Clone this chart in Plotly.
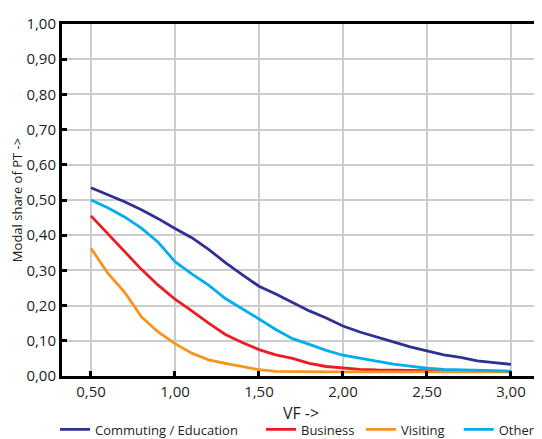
import plotly.graph_objects as go

vf = [0.5, 0.6, 0.7, 0.8, 0.9, 1.0, 1.1, 1.2, 1.3, 1.4, 1.5, 1.6, 1.7, 1.8, 1.9,
      2.0, 2.1, 2.2, 2.3, 2.4, 2.5, 2.6, 2.7, 2.8, 2.9, 3.0]

commuting = [0.535, 0.515, 0.495, 0.472, 0.447, 0.419, 0.393, 0.360, 0.322, 0.288,
             0.255, 0.233, 0.208, 0.185, 0.165, 0.142, 0.125, 0.110, 0.097, 0.083,
             0.071, 0.060, 0.053, 0.043, 0.038, 0.033]
business = [0.455, 0.405, 0.355, 0.303, 0.258, 0.218, 0.185, 0.150, 0.118, 0.095,
            0.075, 0.060, 0.050, 0.036, 0.027, 0.022, 0.019, 0.017, 0.016, 0.015,
            0.014, 0.014, 0.013, 0.013, 0.013, 0.013]
visiting = [0.363, 0.292, 0.238, 0.168, 0.125, 0.092, 0.065, 0.046, 0.036, 0.026,
            0.018, 0.013, 0.012, 0.012, 0.012, 0.012, 0.012, 0.012, 0.012, 0.012,
            0.012, 0.012, 0.012, 0.012, 0.012, 0.012]
other = [0.500, 0.478, 0.452, 0.420, 0.380, 0.325, 0.290, 0.258, 0.220, 0.192,
         0.162, 0.132, 0.106, 0.090, 0.073, 0.059, 0.050, 0.042, 0.034, 0.028,
         0.022, 0.019, 0.017, 0.016, 0.015, 0.014]

series_names = ["Commuting / Education", "Business", "Visiting", "Other"]
colors = ["#2e3192", "#ed1c24", "#f7941d", "#00aeef"]

x_ticks = [0.5, 1.0, 1.5, 2.0, 2.5, 3.0]
x_tick_labels = ["0,50", "1,00", "1,50", "2,00", "2,50", "3,00"]
y_ticks = [0.0, 0.1, 0.2, 0.3, 0.4, 0.5, 0.6, 0.7, 0.8, 0.9, 1.0]
y_tick_labels = ["0,00", "0,10", "0,20", "0,30", "0,40", "0,50", "0,60", "0,70", "0,80", "0,90", "1,00"]

FONT = "Open Sans"

fig = go.Figure()
legend_ids = ["legend2", "legend3", "legend4", "legend5"]
for name, ys, col, lg in zip(series_names, [commuting, business, visiting, other], colors, legend_ids):
    fig.add_trace(go.Scatter(x=vf, y=ys, mode="lines", name=name, legend=lg,
                             line=dict(color=col, width=2.8)))

legend_x = [-0.0146, 0.4163, 0.6255, 0.8300]
legend_common = dict(orientation="h", yanchor="middle", y=-0.152, xanchor="left",
                     font=dict(family=FONT, size=13, color="#231f20"),
                     bgcolor="rgba(0,0,0,0)", itemwidth=30)

fig.update_layout(
    width=534, height=431,
    margin=dict(l=54, r=2, t=16, b=63, autoexpand=False),
    paper_bgcolor="white", plot_bgcolor="white",
    font=dict(family=FONT, color="#231f20"),
    showlegend=True,
    legend2=dict(x=legend_x[0], **legend_common),
    legend3=dict(x=legend_x[1], **legend_common),
    legend4=dict(x=legend_x[2], **legend_common),
    legend5=dict(x=legend_x[3], **legend_common),
    xaxis=dict(
        range=[0.3274, 3.173], tickmode="array", tickvals=x_ticks, ticktext=x_tick_labels,
        showgrid=True, gridcolor="#cccccc", gridwidth=2, automargin=False,
        showline=True, linecolor="black", linewidth=3, mirror=True,
        ticks="inside", ticklen=5, tickwidth=3, tickcolor="black",
        tickfont=dict(family=FONT, size=15, color="#231f20"),
        title=dict(text="VF ->", font=dict(family=FONT, size=16, color="#231f20"), standoff=8),
        zeroline=False,
    ),
    yaxis=dict(
        range=[0, 1.0], tickmode="array", tickvals=y_ticks, ticktext=y_tick_labels,
        showgrid=True, gridcolor="#cccccc", gridwidth=2, automargin=False,
        showline=True, linecolor="black", linewidth=3,
        ticks="inside", ticklen=5, tickwidth=3, tickcolor="black",
        tickfont=dict(family=FONT, size=15, color="#231f20"),
        title=dict(text="Modal share of PT ->", font=dict(family=FONT, size=13, color="#231f20"), standoff=6),
        zeroline=False,
    ),
    shapes=[dict(type="line", xref="paper", yref="paper", x0=1, x1=1, y0=0, y1=1,
                 line=dict(color="#cccccc", width=2))],
)

fig.write_html("out.html")
